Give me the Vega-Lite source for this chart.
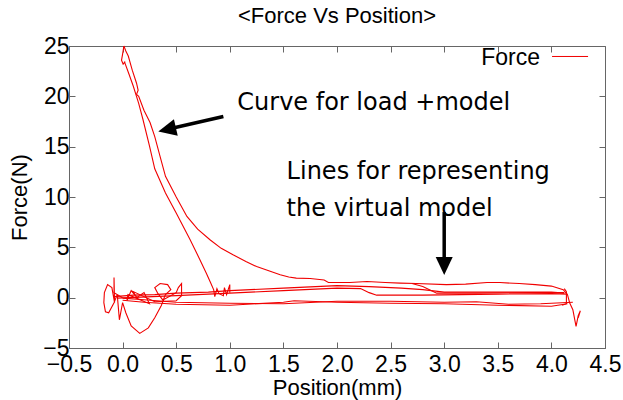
{
  "$schema": "https://vega.github.io/schema/vega-lite/v6.json",
  "width": 536,
  "height": 302,
  "autosize": "none",
  "padding": {"left": 69, "top": 46, "right": 18, "bottom": 52},
  "background": "white",
  "config": {
    "view": {"stroke": "#666", "strokeWidth": 1},
    "axis": {
      "grid": false,
      "domainColor": "#666",
      "tickColor": "#666",
      "labelColor": "#000",
      "titleColor": "#000",
      "labelFont": "Liberation Sans",
      "titleFont": "Liberation Sans",
      "titleFontWeight": "normal",
      "labelFontSize": 23,
      "titleFontSize": 22,
      "labelFlush": false,
      "labelOverlap": false,
      "tickSize": -6
    }
  },
  "title": {
    "text": "<Force Vs Position>",
    "font": "Liberation Sans",
    "fontSize": 22,
    "fontWeight": "normal",
    "color": "#000",
    "anchor": "middle",
    "offset": 7
  },
  "datasets": {
    "curve": [
      {"s":1,"i":0,"x":0.012,"y":25},{"s":1,"i":1,"x":0.03,"y":24.5},{"s":1,"i":2,"x":0.053,"y":24.0},{"s":1,"i":3,"x":0.09,"y":22.6},{"s":1,"i":4,"x":0.13,"y":21.3},{"s":1,"i":5,"x":0.145,"y":20.6},{"s":1,"i":6,"x":0.13,"y":20.2},{"s":1,"i":7,"x":0.15,"y":20.0},{"s":1,"i":8,"x":0.2,"y":18.6},{"s":1,"i":9,"x":0.256,"y":17.4},{"s":1,"i":10,"x":0.30,"y":16.0},{"s":1,"i":11,"x":0.35,"y":14.0},{"s":1,"i":12,"x":0.40,"y":12.05},{"s":1,"i":13,"x":0.5,"y":10.0},{"s":1,"i":14,"x":0.60,"y":8.07},{"s":1,"i":15,"x":0.7,"y":6.8},{"s":1,"i":16,"x":0.815,"y":5.75},{"s":1,"i":17,"x":0.92,"y":4.9},{"s":1,"i":18,"x":1.03,"y":4.26},{"s":1,"i":19,"x":1.15,"y":3.6},{"s":1,"i":20,"x":1.25,"y":3.09},{"s":1,"i":21,"x":1.37,"y":2.65},{"s":1,"i":22,"x":1.47,"y":2.27},{"s":1,"i":23,"x":1.55,"y":2.05},{"s":1,"i":24,"x":1.62,"y":1.94},{"s":1,"i":25,"x":1.75,"y":1.9},{"s":1,"i":26,"x":1.88,"y":1.75},{"s":1,"i":27,"x":1.92,"y":1.5},{"s":1,"i":28,"x":2.12,"y":1.5},{"s":1,"i":29,"x":2.28,"y":1.6},{"s":1,"i":30,"x":2.45,"y":1.5},{"s":1,"i":31,"x":2.59,"y":1.44},{"s":1,"i":32,"x":2.74,"y":1.4},{"s":1,"i":33,"x":3.02,"y":1.3},{"s":1,"i":34,"x":3.2,"y":1.35},{"s":1,"i":35,"x":3.4,"y":1.5},{"s":1,"i":36,"x":3.52,"y":1.5},{"s":1,"i":37,"x":3.7,"y":1.4},{"s":1,"i":38,"x":3.85,"y":1.3},{"s":1,"i":39,"x":4.0,"y":1.15},{"s":1,"i":40,"x":4.11,"y":0.8},{"s":1,"i":41,"x":4.15,"y":0.3},{"s":1,"i":42,"x":4.17,"y":-0.5},{"s":1,"i":43,"x":4.2,"y":-1.2},{"s":1,"i":44,"x":4.22,"y":-2.3},{"s":1,"i":45,"x":4.23,"y":-2.85},{"s":1,"i":46,"x":4.25,"y":-1.8},{"s":1,"i":47,"x":4.27,"y":-1.3},{"s":1,"i":48,"x":4.25,"y":-2.0},
      {"s":2,"i":0,"x":0.012,"y":25},{"s":2,"i":1,"x":0.0,"y":24.2},{"s":2,"i":2,"x":-0.01,"y":23.6},{"s":2,"i":3,"x":0.005,"y":23.2},{"s":2,"i":4,"x":0.02,"y":23.4},{"s":2,"i":5,"x":0.022,"y":23.3},{"s":2,"i":6,"x":0.06,"y":22.2},{"s":2,"i":7,"x":0.10,"y":21.0},{"s":2,"i":8,"x":0.15,"y":19.3},{"s":2,"i":9,"x":0.19,"y":17.7},{"s":2,"i":10,"x":0.25,"y":15.1},{"s":2,"i":11,"x":0.30,"y":12.8},{"s":2,"i":12,"x":0.40,"y":10.4},{"s":2,"i":13,"x":0.50,"y":8.4},{"s":2,"i":14,"x":0.63,"y":5.75},{"s":2,"i":15,"x":0.72,"y":3.8},{"s":2,"i":16,"x":0.78,"y":2.44},{"s":2,"i":17,"x":0.82,"y":1.5},{"s":2,"i":18,"x":0.85,"y":0.78},{"s":2,"i":19,"x":0.86,"y":0.1},{"s":2,"i":20,"x":0.88,"y":0.9},{"s":2,"i":21,"x":0.9,"y":0.4},{"s":2,"i":22,"x":0.94,"y":0.2},{"s":2,"i":23,"x":0.95,"y":1.0},{"s":2,"i":24,"x":0.97,"y":0.3},{"s":2,"i":25,"x":1.0,"y":1.3},{"s":2,"i":26,"x":1.0,"y":0.5},
      {"s":3,"i":0,"x":-0.08,"y":0.1},{"s":3,"i":1,"x":0.1,"y":0.25},{"s":3,"i":2,"x":0.3,"y":0.3},{"s":3,"i":3,"x":0.5,"y":0.45},{"s":3,"i":4,"x":0.8,"y":0.55},{"s":3,"i":5,"x":1.0,"y":0.7},{"s":3,"i":6,"x":1.5,"y":0.95},{"s":3,"i":7,"x":2.0,"y":1.2},{"s":3,"i":8,"x":2.3,"y":1.1},{"s":3,"i":9,"x":2.6,"y":0.95},{"s":3,"i":10,"x":2.8,"y":0.8},{"s":3,"i":11,"x":3.0,"y":0.55},{"s":3,"i":12,"x":3.5,"y":0.55},{"s":3,"i":13,"x":4.0,"y":0.55},{"s":3,"i":14,"x":4.12,"y":0.45},
      {"s":4,"i":0,"x":-0.05,"y":-0.05},{"s":4,"i":1,"x":0.5,"y":0.2},{"s":4,"i":2,"x":1.0,"y":0.45},{"s":4,"i":3,"x":1.5,"y":0.7},{"s":4,"i":4,"x":2.0,"y":0.95},{"s":4,"i":5,"x":2.22,"y":0.9},{"s":4,"i":6,"x":2.3,"y":0.5},{"s":4,"i":7,"x":2.37,"y":0.25},{"s":4,"i":8,"x":2.8,"y":0.25},{"s":4,"i":9,"x":3.5,"y":0.35},{"s":4,"i":10,"x":4.0,"y":0.4},{"s":4,"i":11,"x":4.15,"y":0.35},
      {"s":5,"i":0,"x":2.7,"y":1.4},{"s":5,"i":1,"x":2.8,"y":1.1},{"s":5,"i":2,"x":2.93,"y":0.45},{"s":5,"i":3,"x":3.3,"y":0.45},{"s":5,"i":4,"x":3.8,"y":0.5},{"s":5,"i":5,"x":4.12,"y":0.5},
      {"s":6,"i":0,"x":4.15,"y":-0.6},{"s":6,"i":1,"x":4.0,"y":-0.85},{"s":6,"i":2,"x":3.5,"y":-0.75},{"s":6,"i":3,"x":3.0,"y":-0.6},{"s":6,"i":4,"x":2.5,"y":-0.55},{"s":6,"i":5,"x":2.0,"y":-0.45},{"s":6,"i":6,"x":1.6,"y":-0.3},{"s":6,"i":7,"x":1.5,"y":-0.45},{"s":6,"i":8,"x":1.0,"y":-0.75},{"s":6,"i":9,"x":0.5,"y":-0.65},{"s":6,"i":10,"x":0.2,"y":-0.45},{"s":6,"i":11,"x":0.0,"y":-0.25},
      {"s":7,"i":0,"x":4.2,"y":-0.45},{"s":7,"i":1,"x":3.9,"y":-0.6},{"s":7,"i":2,"x":3.6,"y":-0.65},{"s":7,"i":3,"x":3.3,"y":-0.4},{"s":7,"i":4,"x":3.0,"y":-0.45},{"s":7,"i":5,"x":2.5,"y":-0.35},{"s":7,"i":6,"x":2.0,"y":-0.35},{"s":7,"i":7,"x":1.5,"y":-0.6},{"s":7,"i":8,"x":1.0,"y":-0.55},{"s":7,"i":9,"x":0.5,"y":-0.45},{"s":7,"i":10,"x":0.2,"y":-0.2},{"s":7,"i":11,"x":0.0,"y":-0.05},
      {"s":8,"i":0,"x":4.1,"y":-0.75},{"s":8,"i":1,"x":4.14,"y":-0.6},{"s":8,"i":2,"x":4.14,"y":0.6},{"s":8,"i":3,"x":4.12,"y":0.9},
      {"s":9,"i":0,"x":0.0,"y":0.0},{"s":9,"i":1,"x":-0.08,"y":0.5},{"s":9,"i":2,"x":-0.08,"y":2.0},{"s":9,"i":3,"x":-0.075,"y":-0.5},{"s":9,"i":4,"x":-0.1,"y":1.0},{"s":9,"i":5,"x":-0.14,"y":1.3},{"s":9,"i":6,"x":-0.17,"y":0.5},{"s":9,"i":7,"x":-0.175,"y":-0.5},{"s":9,"i":8,"x":-0.16,"y":-1.4},{"s":9,"i":9,"x":-0.13,"y":-1.5},{"s":9,"i":10,"x":-0.08,"y":-0.5},{"s":9,"i":11,"x":-0.05,"y":0.3},{"s":9,"i":12,"x":-0.03,"y":-2.2},{"s":9,"i":13,"x":0.0,"y":-0.5},{"s":9,"i":14,"x":0.03,"y":-1.5},{"s":9,"i":15,"x":0.08,"y":-2.8},{"s":9,"i":16,"x":0.16,"y":-3.55},{"s":9,"i":17,"x":0.24,"y":-3.0},{"s":9,"i":18,"x":0.3,"y":-2.0},{"s":9,"i":19,"x":0.36,"y":-0.8},{"s":9,"i":20,"x":0.38,"y":-0.3},{"s":9,"i":21,"x":0.33,"y":0.4},{"s":9,"i":22,"x":0.3,"y":1.0},{"s":9,"i":23,"x":0.35,"y":1.4},{"s":9,"i":24,"x":0.42,"y":1.3},{"s":9,"i":25,"x":0.45,"y":0.8},{"s":9,"i":26,"x":0.4,"y":0.3},{"s":9,"i":27,"x":0.38,"y":-0.2},{"s":9,"i":28,"x":0.5,"y":0.5},{"s":9,"i":29,"x":0.52,"y":1.0},{"s":9,"i":30,"x":0.55,"y":1.4},{"s":9,"i":31,"x":0.55,"y":0.2},{"s":9,"i":32,"x":0.5,"y":-0.3},{"s":9,"i":33,"x":0.3,"y":-0.4},{"s":9,"i":34,"x":0.1,"y":0.6},{"s":9,"i":35,"x":0.13,"y":0.0},{"s":9,"i":36,"x":0.2,"y":0.5},{"s":9,"i":37,"x":0.25,"y":-0.6},{"s":9,"i":38,"x":0.05,"y":0.3},{"s":9,"i":39,"x":0.04,"y":-0.3},{"s":9,"i":40,"x":0.08,"y":0.7},{"s":9,"i":41,"x":0.15,"y":-0.2}
    ],
    "notes": [
      {"x": 1.07, "y": 19.3, "t": "Curve for load +model"},
      {"x": 1.53, "y": 12.5, "t": "Lines for representing"},
      {"x": 1.53, "y": 8.8, "t": "the virtual model"}
    ],
    "shafts": [
      {"x": 0.94, "y": 18.0, "x2": 0.45, "y2": 16.8},
      {"x": 3.0, "y": 8.5, "x2": 3.0, "y2": 3.6}
    ],
    "heads": [
      {"x": 0.333, "y": 16.5, "a": 257},
      {"x": 3.0, "y": 2.25, "a": 180}
    ],
    "key": [
      {"x": 3.894, "y": 23.76, "t": "Force", "x1": 4.006, "x2": 4.342, "ly": 23.96}
    ]
  },
  "layer": [
    {
      "data": {"name": "curve"},
      "mark": {"type": "line", "color": "#f00000", "strokeWidth": 1.1},
      "encoding": {
        "x": {
          "field": "x", "type": "quantitative",
          "scale": {"domain": [-0.5, 4.5], "nice": false, "zero": false},
          "axis": {"values": [-0.5, 0, 0.5, 1, 1.5, 2, 2.5, 3, 3.5, 4, 4.5], "title": "Position(mm)", "labelPadding": 11, "titlePadding": 1}
        },
        "y": {
          "field": "y", "type": "quantitative",
          "scale": {"domain": [-5, 25], "nice": false, "zero": false},
          "axis": {"values": [-5, 0, 5, 10, 15, 20, 25], "title": "Force(N)", "labelPadding": 6, "titlePadding": 11}
        },
        "detail": {"field": "s"},
        "order": {"field": "i", "type": "quantitative"}
      }
    },
    {
      "data": {"name": "curve"},
      "mark": {"type": "point", "opacity": 0},
      "encoding": {
        "x": {
          "field": "x", "type": "quantitative",
          "scale": {"domain": [-0.5, 4.5], "nice": false, "zero": false},
          "axis": {"orient": "top", "values": [-0.5, 0, 0.5, 1, 1.5, 2, 2.5, 3, 3.5, 4, 4.5], "labels": false, "domain": false, "title": null}
        },
        "y": {
          "field": "y", "type": "quantitative",
          "scale": {"domain": [-5, 25], "nice": false, "zero": false},
          "axis": {"orient": "right", "values": [-5, 0, 5, 10, 15, 20, 25], "labels": false, "domain": false, "title": null}
        }
      }
    },
    {
      "data": {"name": "shafts"},
      "mark": {"type": "rule", "color": "#000", "strokeWidth": 3.5},
      "encoding": {
        "x": {"field": "x", "type": "quantitative", "axis": null},
        "y": {"field": "y", "type": "quantitative", "axis": null},
        "x2": {"field": "x2"},
        "y2": {"field": "y2"}
      }
    },
    {
      "data": {"name": "heads"},
      "mark": {"type": "point", "shape": "M0,0L-0.85,1.8L0.85,1.8Z", "filled": true, "color": "#000", "opacity": 1, "size": 400},
      "encoding": {
        "x": {"field": "x", "type": "quantitative", "axis": null},
        "y": {"field": "y", "type": "quantitative", "axis": null},
        "angle": {"field": "a", "type": "quantitative", "scale": null}
      }
    },
    {
      "data": {"name": "notes"},
      "mark": {"type": "text", "align": "left", "baseline": "middle", "font": "DejaVu Sans", "fontSize": 24, "color": "#000"},
      "encoding": {
        "x": {"field": "x", "type": "quantitative", "axis": null},
        "y": {"field": "y", "type": "quantitative", "axis": null},
        "text": {"field": "t"}
      }
    },
    {
      "data": {"name": "key"},
      "mark": {"type": "text", "align": "right", "baseline": "middle", "font": "Liberation Sans", "fontSize": 23, "color": "#000"},
      "encoding": {
        "x": {"field": "x", "type": "quantitative", "axis": null},
        "y": {"field": "y", "type": "quantitative", "axis": null},
        "text": {"field": "t"}
      }
    },
    {
      "data": {"name": "key"},
      "mark": {"type": "rule", "color": "#f00000", "strokeWidth": 1},
      "encoding": {
        "x": {"field": "x1", "type": "quantitative", "axis": null},
        "x2": {"field": "x2"},
        "y": {"field": "ly", "type": "quantitative", "axis": null}
      }
    }
  ],
  "resolve": {"axis": {"x": "independent", "y": "independent"}}
}
